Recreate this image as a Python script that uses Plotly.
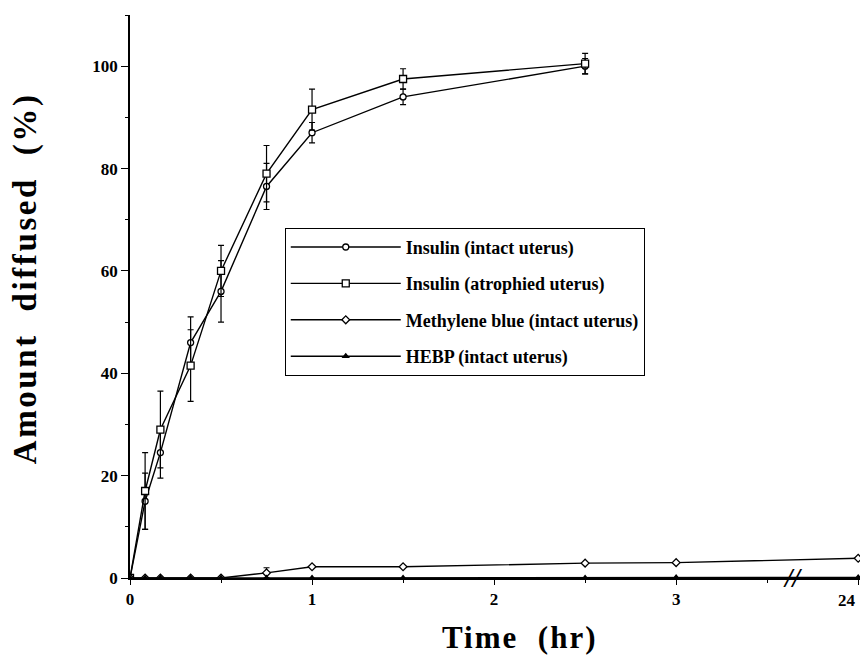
import plotly.graph_objects as go

# ---- data ----
time_ins = [0, 0.083, 0.167, 0.333, 0.5, 0.75, 1, 1.5, 2.5]
ins_intact = [0, 15, 24.5, 46, 56, 76.5, 87, 94, 100]
ins_intact_err = [0, 5.5, 5, 5, 6, 4.5, 2, 1.5, 1.5]
ins_atro = [0, 17, 29, 41.5, 60, 79, 91.5, 97.5, 100.5]
ins_atro_err = [0, 7.5, 7.5, 7, 5, 5.5, 4, 2, 2]

time_long = [0, 0.083, 0.167, 0.333, 0.5, 0.75, 1, 1.5, 2.5, 3, 24]
mb = [0, 0, 0, 0, 0, 1.0, 2.2, 2.2, 2.9, 3.0, 3.85]
mb_err = [0, 0, 0, 0, 0, 1.0, 0, 0, 0, 0, 0]
hebp = [0, 0, 0, 0, 0, 0, 0, 0, 0, 0.1, 0.1]

x_tick_vals = [0, 1, 2, 3, 24]
x_tick_text = ["0", "1", "2", "3", ""]
last_tick_label = "24"
y_tick_vals = [0, 20, 40, 60, 80, 100]

BREAK_POS = 4.0  # display position of the 24 h point (broken axis)


def disp(t):
    return t if t <= 3 else BREAK_POS


SERIF = "Liberation Serif, Times New Roman, serif"

fig = go.Figure()


def add(name, xs, ys, err, symbol, size, group, fill="white"):
    fig.add_trace(go.Scatter(
        x=[disp(v) for v in xs], y=ys, name=name, mode="lines+markers",
        legendgroup=group,
        line=dict(color="black", width=1.4),
        marker=dict(symbol=symbol, size=size, color=fill,
                    line=dict(color="black", width=1.3)),
        error_y=(dict(type="data", array=err, color="black",
                      thickness=1.2, width=3) if err is not None else None),
    ))


add("Insulin (intact uterus)", time_ins, ins_intact, ins_intact_err, "circle", 6, "a")
add("Insulin (atrophied uterus)", time_ins, ins_atro, ins_atro_err, "square", 7, "b")
add("Methylene blue (intact uterus)", time_long, mb, mb_err, "diamond", 6, "c")
add("HEBP (intact uterus)", time_long, hebp, None, "triangle-up", 5, "d", fill="black")

# axis break mark
fig.add_annotation(x=3.64, y=0, text="<i><b>//</b></i>", showarrow=False,
                   font=dict(family=SERIF, size=27, color="black"),
                   xanchor="center", yanchor="middle")

# label of the 24 h tick (kept inside the page edge)
fig.add_annotation(x=disp(24), y=0, yref="y", text="<b>%s</b>" % last_tick_label,
                   showarrow=False, xanchor="right", yanchor="top", yshift=-11,
                   font=dict(family=SERIF, size=17, color="black"))

# axis titles
fig.add_annotation(xref="paper", yref="paper", x=0.533, y=-0.105,
                   text='<span style="letter-spacing:2px"><b>Time  (hr)</b></span>',
                   showarrow=False,
                   font=dict(family=SERIF, size=31, color="black"),
                   xanchor="center", yanchor="middle")
fig.add_annotation(xref="paper", yref="paper", x=-0.142, y=0.533,
                   text='<span style="letter-spacing:2.6px"><b>Amount  diffused  (%)</b></span>',
                   showarrow=False, textangle=-90,
                   font=dict(family=SERIF, size=33, color="black"),
                   xanchor="center", yanchor="middle")

fig.update_layout(
    width=860, height=658,
    margin=dict(l=130, r=0, t=15, b=80, autoexpand=False),
    paper_bgcolor="white", plot_bgcolor="white",
    font=dict(family=SERIF, color="black"),
    showlegend=True,
    legend=dict(
        x=0.212, y=0.622, xanchor="left", yanchor="top",
        bordercolor="black", borderwidth=1, bgcolor="white",
        font=dict(family=SERIF, size=18, color="black", weight="bold"),
        tracegroupgap=10, itemwidth=110,
        traceorder="grouped",
    ),
    xaxis=dict(
        range=[0, BREAK_POS + 0.01], automargin=False,
        tickvals=[disp(v) for v in x_tick_vals], ticktext=x_tick_text,
        showline=True, linecolor="black", linewidth=1.5,
        ticks="outside", ticklen=5, tickcolor="black",
        showgrid=False, zeroline=False,
        tickfont=dict(family=SERIF, size=17, color="black", weight="bold"),
        minor=dict(tickvals=[0.5, 1.5, 2.5, 3.5], ticks="outside", ticklen=3,
                   tickcolor="black"),
    ),
    yaxis=dict(
        range=[0, 110], automargin=False,
        tickvals=y_tick_vals,
        showline=True, linecolor="black", linewidth=1.5,
        ticks="outside", ticklen=7, tickcolor="black",
        showgrid=False, zeroline=False,
        tickfont=dict(family=SERIF, size=17, color="black", weight="bold"),
        minor=dict(dtick=10, ticks="outside", ticklen=3, tickcolor="black"),
    ),
)

fig.write_html("out.html")
